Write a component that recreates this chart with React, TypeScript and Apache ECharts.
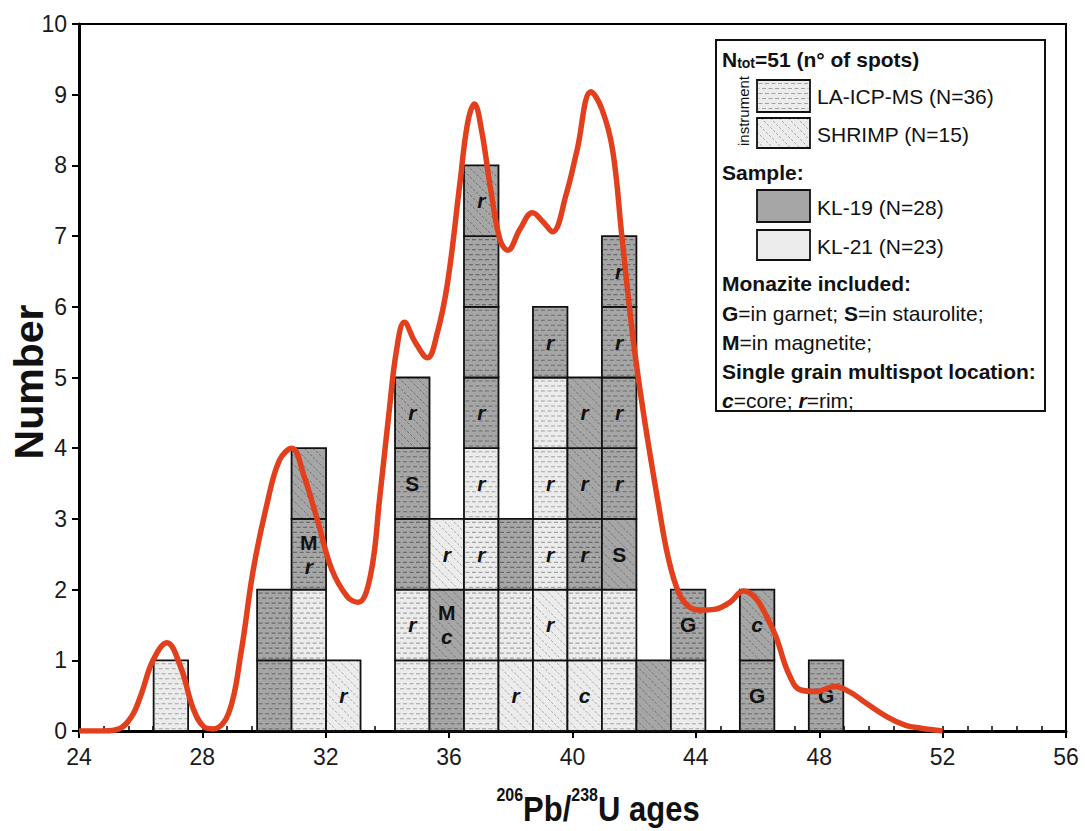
import React, { useEffect, useRef } from "react";
import * as echarts from "echarts";

// ---- data ----
const binStart = 26.42;
const binWidth = 1.118;

const cellBins = [
  0,
  3, 3,
  4, 4, 4, 4,
  5,
  7, 7, 7, 7, 7,
  8, 8, 8,
  9, 9, 9, 9, 9, 9, 9, 9,
  10, 10, 10,
  11, 11, 11, 11, 11, 11,
  12, 12, 12, 12, 12,
  13, 13, 13, 13, 13, 13, 13,
  14,
  15, 15,
  17, 17,
  19,
];
const cellSamples = [
  "KL-21",
  "KL-19", "KL-19",
  "KL-21", "KL-21", "KL-19", "KL-19",
  "KL-21",
  "KL-21", "KL-21", "KL-19", "KL-19", "KL-19",
  "KL-19", "KL-19", "KL-21",
  "KL-21", "KL-21", "KL-21", "KL-21", "KL-19", "KL-19", "KL-19", "KL-19",
  "KL-21", "KL-21", "KL-19",
  "KL-21", "KL-21", "KL-21", "KL-21", "KL-21", "KL-19",
  "KL-21", "KL-21", "KL-19", "KL-19", "KL-19",
  "KL-21", "KL-21", "KL-19", "KL-19", "KL-19", "KL-19", "KL-19",
  "KL-19",
  "KL-21", "KL-19",
  "KL-19", "KL-19",
  "KL-19",
];
const cellInstruments = [
  "LA",
  "LA", "LA",
  "LA", "LA", "LA", "SHRIMP",
  "SHRIMP",
  "LA", "LA", "LA", "LA", "SHRIMP",
  "LA", "SHRIMP", "SHRIMP",
  "LA", "LA", "LA", "LA", "LA", "LA", "LA", "SHRIMP",
  "SHRIMP", "LA", "LA",
  "SHRIMP", "SHRIMP", "LA", "LA", "LA", "LA",
  "SHRIMP", "LA", "LA", "SHRIMP", "SHRIMP",
  "LA", "LA", "SHRIMP", "LA", "LA", "LA", "LA",
  "SHRIMP",
  "LA", "LA",
  "LA", "SHRIMP",
  "LA",
];
const cellLabels = [
  "",
  "", "",
  "", "", "Mr", "",
  "r",
  "", "r", "", "S", "r",
  "", "Mc", "r",
  "", "", "r", "r", "r", "", "", "r",
  "r", "", "",
  "", "r", "r", "r", "", "r",
  "c", "", "r", "r", "r",
  "", "", "S", "r", "r", "r", "r",
  "",
  "", "G",
  "G", "c",
  "G",
];

const kdeAges = [
  24.0, 24.8, 25.3, 25.7, 26.0, 26.4, 26.85, 27.3, 27.7, 28.05, 28.35, 28.85,
  29.25, 29.65, 30.1, 30.5, 30.9, 31.3, 31.75, 32.2, 32.7, 33.05, 33.45, 33.75,
  34.05, 34.3, 34.55, 34.9, 35.3, 35.6, 35.95, 36.35, 36.6, 36.82, 37.05, 37.35,
  37.65, 37.9, 38.3, 38.7, 39.05, 39.35, 39.8, 40.15, 40.6, 40.95, 41.3, 41.6,
  41.95, 42.3, 42.8, 43.1, 43.45, 43.8, 44.2, 44.6, 45.1, 45.55, 45.9,
  46.2, 46.6, 47.0, 47.4, 47.9, 48.5, 49.0, 49.5, 50.2, 50.8, 51.3, 52.0,
];
const kdeCounts = [
  0.0, 0.0, 0.03, 0.2, 0.5, 1.0, 1.25, 0.9, 0.32, 0.06, 0.03, 0.25,
  1.1, 2.28, 3.22, 3.83, 4.0, 3.6, 2.95, 2.28, 1.9, 1.82, 2.2, 3.3,
  4.5, 5.4, 5.78, 5.5, 5.28, 5.6, 6.34, 7.75, 8.6, 8.87, 8.5, 7.65,
  6.95, 6.8, 7.1, 7.33, 7.2, 7.06, 7.6, 8.22, 9.04, 8.8, 8.22, 7.0,
  5.6, 4.5, 3.17, 2.46, 1.95, 1.75, 1.71, 1.72, 1.82, 1.98, 1.9,
  1.7, 1.33, 0.82, 0.58, 0.56, 0.63, 0.55, 0.4, 0.2, 0.08, 0.04, 0.0,
];

const FONT = '"Liberation Sans", Arial, Helvetica, sans-serif';
const DARK_FILL = "#a6a6a6";
const LIGHT_FILL = "#ececec";

function patternCell(x: number, y: number, w: number, h: number, dark: boolean, shrimp: boolean, plain = false) {
  const els: any[] = [];
  els.push({
    type: "rect",
    shape: { x, y, width: w, height: h },
    style: { fill: dark ? DARK_FILL : LIGHT_FILL, stroke: "none" },
    silent: true,
  });
  if (!plain) {
    if (!shrimp) {
      const col = dark ? "#6a6a6a" : "#a2a2a2";
      let row = 0;
      for (let yy = y + 3.5; yy < y + h - 1.5; yy += 5) {
        els.push({
          type: "line",
          shape: { x1: x + 1.5, y1: yy, x2: x + w - 1.5, y2: yy },
          style: { stroke: col, lineWidth: 1.1, lineDash: [4, 2.5], lineDashOffset: row % 2 ? 3.2 : 0 },
          silent: true,
        });
        row++;
      }
    } else {
      const col = dark ? "#6e6e6e" : "#a6a6a6";
      const step = 9;
      const cMin = y - (x + w);
      const cMax = y + h - x;
      for (let c = cMin + 4; c < cMax; c += step) {
        const xa = Math.max(x, y - c);
        const xb = Math.min(x + w, y + h - c);
        if (xb - xa < 1) continue;
        els.push({
          type: "line",
          shape: { x1: xa, y1: xa + c, x2: xb, y2: xb + c },
          style: { stroke: col, lineWidth: 1, lineDash: [2.5, 1.8] },
          silent: true,
        });
      }
    }
  }
  els.push({
    type: "rect",
    shape: { x, y, width: w, height: h },
    style: { fill: "none", stroke: "#111", lineWidth: 1.8 },
    silent: true,
  });
  return els;
}

const cellLevels: number[] = [];
{
  const counts: Record<number, number> = {};
  cellBins.forEach((b) => {
    counts[b] = counts[b] || 0;
    cellLevels.push(counts[b]);
    counts[b] += 1;
  });
}

export default function App() {
  const ref = useRef<HTMLDivElement>(null);
  useEffect(() => {
    if (!ref.current) return;
    const chart = echarts.init(ref.current, undefined, { renderer: "svg" });

    const cellData = cellBins.map((b, i) => [
      binStart + b * binWidth,
      binStart + (b + 1) * binWidth,
      cellLevels[i],
    ]);

    const legendEls: any[] = [];
    legendEls.push({
      type: "rect",
      shape: { x: 716, y: 40, width: 329, height: 371 },
      style: { fill: "#fff", stroke: "#111", lineWidth: 2 },
    });
    const txt = (x: number, y: number, text: string, font: string, extra: any = {}) => ({
      type: "text",
      x,
      y,
      style: { text, font, fill: "#111", align: "left", verticalAlign: "middle", ...extra },
    });
    const reg = `21px ${FONT}`;
    const bold = `bold 21px ${FONT}`;
    legendEls.push({
      type: "text",
      x: 722,
      y: 58,
      style: {
        text: "{b|N}{s|tot}{b|=51 (n° of spots)}",
        fill: "#111",
        align: "left",
        verticalAlign: "middle",
        rich: {
          b: { font: `bold 21px ${FONT}`, verticalAlign: "bottom", lineHeight: 24 },
          s: { font: `bold 14px ${FONT}`, verticalAlign: "bottom", lineHeight: 20 },
        },
      },
    });
    legendEls.push({
      type: "text",
      x: 743,
      y: 111,
      rotation: Math.PI / 2,
      style: { text: "instrument", font: `15px ${FONT}`, fill: "#111", align: "center", verticalAlign: "middle" },
    });
    patternCell(757, 80, 53, 32, false, false).forEach((e) => legendEls.push(e));
    legendEls.push(txt(817, 96, "LA-ICP-MS (N=36)", reg));
    patternCell(757, 118, 53, 30, false, true).forEach((e) => legendEls.push(e));
    legendEls.push(txt(817, 134, "SHRIMP (N=15)", reg));
    legendEls.push(txt(722, 172, "Sample:", bold));
    patternCell(757, 190, 53, 32, true, false, true).forEach((e) => legendEls.push(e));
    legendEls.push(txt(817, 207, "KL-19 (N=28)", reg));
    patternCell(757, 230, 53, 30, false, false, true).forEach((e) => legendEls.push(e));
    legendEls.push(txt(817, 246, "KL-21 (N=23)", reg));
    legendEls.push(txt(722, 283, "Monazite included:", bold));
    const richLeg = {
      n: { font: reg },
      b: { font: bold },
      bi: { font: `italic bold 21px ${FONT}` },
    };
    legendEls.push(
      txt(722, 313, "{b|G}{n|=in garnet; }{b|S}{n|=in staurolite;}", reg, { rich: richLeg })
    );
    legendEls.push(txt(722, 342, "{b|M}{n|=in magnetite;}", reg, { rich: richLeg }));
    legendEls.push(txt(722, 371, "Single grain multispot location:", bold));
    legendEls.push(txt(722, 400, "{bi|c}{n|=core; }{bi|r}{n|=rim;}", reg, { rich: richLeg }));

    legendEls.push({
      type: "text",
      x: 29,
      y: 382,
      rotation: Math.PI / 2,
      style: { text: "Number", font: `bold 41px ${FONT}`, fill: "#111", align: "center", verticalAlign: "middle" },
    });
    legendEls.push({
      type: "text",
      x: 598,
      y: 806,
      scaleY: 1.12,
      style: {
        text: "{s|206}{b|Pb/}{s|238}{b|U ages}",
        fill: "#111",
        align: "center",
        verticalAlign: "middle",
        rich: {
          b: { font: `bold 31px ${FONT}`, verticalAlign: "bottom", lineHeight: 36 },
          s: { font: `bold 16px ${FONT}`, verticalAlign: "top", lineHeight: 36 },
        },
      },
    });

    const option: any = {
      animation: false,
      backgroundColor: "#fff",
      grid: {
        left: 79,
        right: 19,
        top: 24,
        bottom: 100,
        show: true,
        borderColor: "#000",
        borderWidth: 2,
        backgroundColor: "transparent",
      },
      xAxis: [
        {
          type: "value",
          min: 24,
          max: 56,
          interval: 4,
          axisLine: { show: true, lineStyle: { color: "#000", width: 3 } },
          axisTick: { show: true, inside: false, length: 7, lineStyle: { color: "#000", width: 2 } },
          axisLabel: { fontSize: 23, color: "#1a1a1a", margin: 14, fontFamily: FONT },
          splitLine: { show: false },
        },
        {
          type: "value",
          min: 24,
          max: 56,
          interval: 0.8,
          position: "bottom",
          axisLine: { show: false },
          axisTick: { show: true, inside: true, length: 5, lineStyle: { color: "#000", width: 1.5 } },
          axisLabel: { show: false },
          splitLine: { show: false },
        },
      ],
      yAxis: {
        type: "value",
        min: 0,
        max: 10,
        interval: 1,
        axisLine: { show: true, lineStyle: { color: "#000", width: 3 } },
        axisTick: { show: true, inside: false, length: 7, lineStyle: { color: "#000", width: 2 } },
        axisLabel: { fontSize: 23, color: "#1a1a1a", margin: 12, fontFamily: FONT },
        splitLine: { show: false },
      },
      series: [
        {
          type: "custom",
          xAxisIndex: 0,
          yAxisIndex: 0,
          encode: { x: [0, 1], y: 2 },
          data: cellData,
          z: 2,
          renderItem: (params: any, api: any) => {
            const i = params.dataIndex;
            const x0 = api.value(0);
            const x1 = api.value(1);
            const lvl = api.value(2);
            const pTL = api.coord([x0, lvl + 1]);
            const pBR = api.coord([x1, lvl]);
            const x = pTL[0];
            const y = pTL[1];
            const w = pBR[0] - pTL[0];
            const h = pBR[1] - pTL[1];
            const dark = cellSamples[i] === "KL-19";
            const shrimp = cellInstruments[i] === "SHRIMP";
            const children = patternCell(x, y, w, h, dark, shrimp);
            const lab = cellLabels[i];
            if (lab) {
              const chars = lab.split("");
              const n = chars.length;
              chars.forEach((ch, j) => {
                const italic = ch === ch.toLowerCase();
                children.push({
                  type: "text",
                  x: x + w / 2,
                  y: y + h / 2 + (j - (n - 1) / 2) * 24,
                  style: {
                    text: ch,
                    font: `${italic ? "italic " : ""}bold 21px ${FONT}`,
                    fill: "#111",
                    align: "center",
                    verticalAlign: "middle",
                  },
                  silent: true,
                });
              });
            }
            return { type: "group", children };
          },
        },
        {
          type: "line",
          xAxisIndex: 0,
          yAxisIndex: 0,
          data: kdeAges.map((a, i) => [a, kdeCounts[i]]),
          smooth: 0.4,
          showSymbol: false,
          symbol: "none",
          z: 5,
          lineStyle: { color: "#e2401c", width: 5.5 },
        },
      ],
      graphic: { elements: [{ type: "group", z: 100, children: legendEls }] },
    };
    chart.setOption(option);
    return () => chart.dispose();
  }, []);
  return (
    <div
      ref={ref}
      style={{ position: "fixed", left: 0, top: 0, width: 1085, height: 831, background: "#fff" }}
    />
  );
}
